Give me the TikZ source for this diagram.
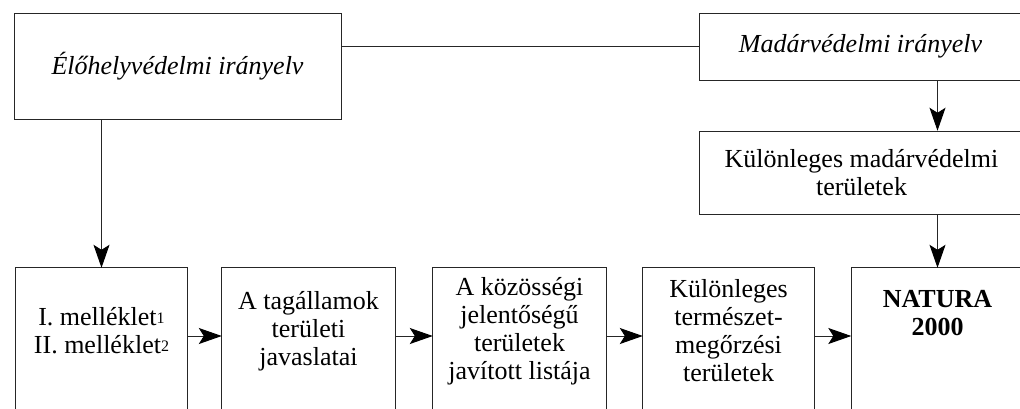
\documentclass[tikz,border=0pt]{standalone}
\usepackage{fontspec}
\setmainfont{Liberation Serif}
\usetikzlibrary{arrows.meta}
\newcommand{\mysup}[1]{\raisebox{2.5pt}{\fontsize{16pt}{16pt}\selectfont #1}}
\begin{document}
\begin{tikzpicture}[x=1pt,y=-1pt,
  every node/.style={font=\fontsize{26pt}{28pt}\selectfont, align=center, inner sep=0pt},
  framed/.style={draw=black!85, line width=1pt},
  frame/.style={draw=black!85, line width=1pt},
  link/.style={draw=black!85, line width=1pt},
  arr/.style={draw=black!85, line width=1pt, -{Stealth[length=23pt,width=16pt,inset=5pt,black]}}]
\useasboundingbox (0,0) rectangle (1020,408);
\clip (0,0) rectangle (1020,408);
\node[framed, minimum width=327pt, minimum height=106pt, font=\fontsize{26pt}{28pt}\selectfont\itshape] (elo) at (177.5,66.5) {Élőhelyvédelmi irányelv};
\node[framed, minimum width=323pt, minimum height=67pt, font=\fontsize{26pt}{28pt}\selectfont\itshape] (madar) at (860.5,46.5) {Madárvédelmi irányelv};
\node[framed, minimum width=325pt, minimum height=83.5pt] (kul) at (861.5,173) {Különleges madárvédelmi\\területek};
\node[minimum width=171pt, minimum height=126pt] (a) at (101.5,331) {I. melléklet\mysup{1}\\II. melléklet\mysup{2}};
\node[minimum width=173pt, minimum height=126pt] (b) at (308.5,331) {A tagállamok\\területi\\javaslatai};
\node[minimum width=173pt, minimum height=126pt] (c) at (519.5,331) {A közösségi\\jelentőségű\\területek\\javított listája};
\node[minimum width=171pt, minimum height=126pt] (d) at (728.5,331) {Különleges\\természet-\\megőrzési\\területek};
\node[minimum width=172pt, minimum height=90pt, font=\fontsize{26pt}{28pt}\selectfont\bfseries] (e) at (937.5,313) {NATURA\\2000};
\foreach \n in {a,b,c,d,e} \draw[frame] (\n.north west) rectangle ([yshift=-150pt]\n.south east);
\draw[link] (elo.east |- madar.west) -- (madar.west);
\draw[arr] (elo.south -| a.north) -- (a.north);
\draw[arr] (madar.south -| e.north) -- (kul.north -| e.north);
\draw[arr] (kul.south -| e.north) -- (e.north);
\draw[arr] ([yshift=-5pt]a.east) -- ([yshift=-5pt]b.west);
\draw[arr] ([yshift=-5pt]b.east) -- ([yshift=-5pt]c.west);
\draw[arr] ([yshift=-5pt]c.east) -- ([yshift=-5pt]d.west);
\draw[arr] ([yshift=-5pt]d.east) -- ([yshift=-5pt]d.east -| e.west);
\end{tikzpicture}
\end{document}
